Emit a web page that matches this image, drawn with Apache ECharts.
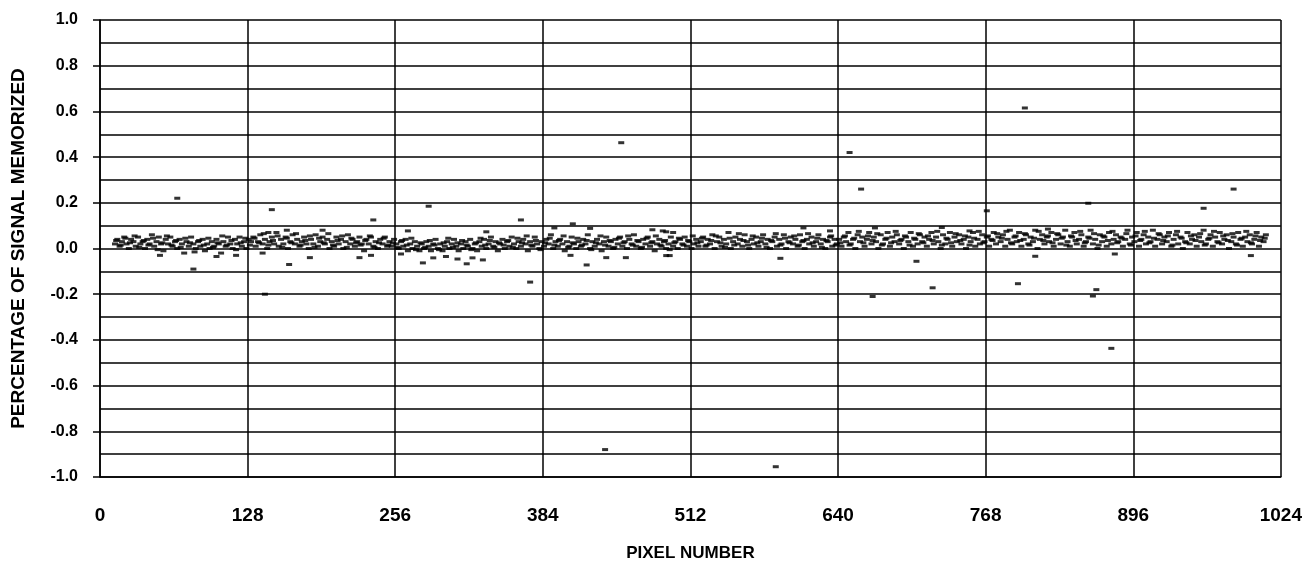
<!DOCTYPE html>
<html>
<head>
<meta charset="utf-8">
<script src="https://cdn.jsdelivr.net/npm/echarts@6/dist/echarts.min.js"></script>
<style>
html,body{margin:0;padding:0;background:#fff;}
#chart{width:1305px;height:567px;}
</style>
</head>
<body>
<div id="chart"></div>
<script>
// ---- DATA ----
const xTicks = [0, 128, 256, 384, 512, 640, 768, 896, 1024];
const yTicks = [-1.0, -0.8, -0.6, -0.4, -0.2, 0.0, 0.2, 0.4, 0.6, 0.8, 1.0];
const xTitle = 'PIXEL NUMBER';
const yTitle = 'PERCENTAGE OF SIGNAL MEMORIZED';

// dense band, pixels 0-250
const bandLeft = [
[13,.02],[15,.04],[17,.01],[19,.03],[21,.05],[23,.02],[25,.00],[27,.04],[29,.03],[31,.01],[33,.05],[35,.02],[37,.03],[39,.00],[41,.04],[43,.02],[45,.06],[47,.01],[49,.03],[51,.05],[53,.02],[55,-.01],[57,.04],[59,.02],[61,.05],[63,.01],[65,.03],[67,.00],[69,.04],[71,.02],[73,-.02],[75,.03],[77,.01],[79,.05],[81,.02],[83,.00],[85,.03],[87,.01],[89,.04],[91,-.01],[93,.02],[95,.00],[97,.03],[99,.01],[101,.04],[103,.02],[105,-.02],[107,.03],[109,.01],[111,.05],[113,.02],[115,.00],[117,.04],[119,.02],[121,.05],[123,.01],[125,.03],[127,.00],[129,.04],
[131,.03],[133,.05],[135,.01],[137,.03],[139,.06],[141,.02],[143,.04],[145,.00],[147,.03],[149,.05],[151,.02],[153,.07],[155,.01],[157,.04],[159,.02],[161,.05],[163,.00],[165,.03],[167,.06],[169,.02],[171,.04],[173,.01],[175,.03],[177,.05],[179,.02],[181,.00],[183,.04],[185,.02],[187,.06],[189,.01],[191,.03],[193,.05],[195,.02],[197,.04],[199,.00],[201,.03],[203,.01],[205,.05],[207,.02],[209,.04],[211,.00],[213,.03],[215,.06],[217,.02],[219,.04],[221,.01],[223,.03],[225,.05],[227,.02],[229,-.01],[231,.04],[233,.02],[235,.05],[237,.01],[239,.03],[241,.00],[243,.04],[245,.02],[247,.05],[249,.01]
];
// dense band, pixels 250-520
const bandMiddle = [
[251,.03],[253,.01],[255,.04],[257,.02],[259,.00],[261,.03],[263,.01],[265,.04],[267,-.01],[269,.02],[271,.00],[273,.03],[275,.01],[277,-.01],[279,.02],[281,.00],[283,.03],[285,.01],[287,-.01],[289,.02],[291,.04],[293,.00],[295,.02],[297,-.01],[299,.01],[301,.03],[303,.00],[305,.02],[307,.04],[309,.01],[311,-.01],[313,.02],[315,.00],[317,.03],[319,.01],[321,.04],[323,.00],[325,.02],[327,-.01],[329,.03],[331,.01],[333,.04],[335,.00],[337,.02],[339,.05],[341,.01],[343,.03],[345,-.01],
[347,.02],[349,.04],[351,.00],[353,.03],[355,.01],[357,.05],[359,.02],[361,.00],[363,.03],[365,.01],[367,.04],[369,.02],[371,-.01],[373,.03],[375,.01],[377,.05],[379,.02],[381,.00],[383,.03],[385,.01],[387,.04],[389,.02],[391,.06],[393,.00],[395,.03],[397,.01],[399,.04],[401,.02],[403,-.01],[405,.03],[407,.01],[409,.05],[411,.02],[413,.00],[415,.03],[417,.01],[419,.04],[421,.02],[423,.06],[425,.00],[427,.03],[429,.01],[431,.04],[433,.02],[435,-.01],[437,.03],[439,.05],[441,.01],[443,.03],[445,.00],[447,.04],[449,.02],[451,.05],[453,.01],[455,.03],[457,.00],[459,.04],[461,.02],[463,.06],[465,.01],[467,.03],[469,.00],[471,.04],[473,.02],[475,.05],[477,.01],[479,.03],[481,-.01],[483,.02],[485,.04],[487,.01],[489,.03],[491,.00],[493,.02],[495,.05],[497,.01],[499,.03],[501,.00],[503,.04],[505,.02],[507,.05],[509,.01],[511,.03],[513,.00],[515,.02],[517,.04],[519,.01]
];
// dense band, pixels 520-780
const bandCenterRight = [
[521,.03],[523,.05],[525,.01],[527,.04],[529,.02],[531,.06],[533,.00],[535,.03],[537,.05],[539,.01],[541,.04],[543,.02],[545,.07],[547,.00],[549,.03],[551,.05],[553,.02],[555,.04],[557,.01],[559,.06],[561,.03],[563,.00],[565,.04],[567,.02],[569,.05],[571,.01],[573,.03],[575,.06],[577,.02],[579,.04],[581,.00],[583,.03],[585,.05],[587,.01],[589,.04],[591,.02],[593,.06],[595,.00],[597,.03],[599,.05],[601,.02],[603,.04],[605,.01],[607,.06],[609,.03],[611,.00],[613,.04],[615,.02],[617,.05],[619,.01],[621,.03],[623,.06],[625,.02],[627,.04],[629,.00],[631,.03],[633,.05],[635,.01],[637,.04],[639,.02],
[641,.04],[643,.01],[645,.05],[647,.03],[649,.07],[651,.02],[653,.04],[655,.00],[657,.06],[659,.03],[661,.05],[663,.01],[665,.04],[667,.07],[669,.02],[671,.05],[673,.03],[675,.00],[677,.06],[679,.02],[681,.04],[683,.07],[685,.01],[687,.05],[689,.03],[691,.06],[693,.02],[695,.04],[697,.00],[699,.05],[701,.03],[703,.07],[705,.01],[707,.04],[709,.02],[711,.06],[713,.03],[715,.05],[717,.01],[719,.04],[721,.07],[723,.02],[725,.05],[727,.03],[729,.00],[731,.06],[733,.02],[735,.04],[737,.07],[739,.01],[741,.05],[743,.03],[745,.06],[747,.02],[749,.04],[751,.00],[753,.05],[755,.03],[757,.07],[759,.01],[761,.04],[763,.02],[765,.06],[767,.03],[769,.05],[771,.01],[773,.04],[775,.07],[777,.02],[779,.05]
];
// dense band, pixels 780-1012
const bandRight = [
[781,.03],[783,.06],[785,.01],[787,.04],[789,.08],[791,.02],[793,.05],[795,.03],[797,.07],[799,.01],[801,.04],[803,.06],[805,.02],[807,.05],[809,.03],[811,.08],[813,.00],[815,.04],[817,.06],[819,.02],[821,.05],[823,.03],[825,.07],[827,.01],[829,.04],[831,.06],[833,.02],[835,.05],[837,.08],[839,.03],[841,.01],[843,.05],[845,.07],[847,.02],[849,.04],[851,.06],[853,.01],[855,.03],[857,.05],[859,.08],[861,.02],[863,.04],[865,.00],[867,.06],[869,.03],[871,.05],[873,.01],[875,.07],[877,.02],[879,.04],[881,.06],[883,.03],[885,.05],[887,.01],[889,.04],[891,.08],[893,.02],[895,.05],[897,.03],[899,.07],[901,.01],[903,.04],[905,.06],[907,.02],[909,.05],[911,.03],[913,.08],[915,.01],[917,.04],[919,.06],[921,.02],[923,.05],[925,.03],[927,.07],[929,.01],[931,.04],[933,.06],[935,.02],[937,.05],[939,.00],[941,.03],[943,.07],[945,.02],[947,.04],[949,.06],[951,.01],[953,.05],[955,.03],[957,.08],[959,.02],[961,.04],[963,.06],[965,.01],[967,.05],[969,.03],[971,.07],[973,.02],[975,.04],[977,.06],[979,.00],[981,.03],[983,.05],[985,.02],[987,.07],[989,.04],[991,.01],[993,.05],[995,.03],[997,.06],[999,.02],[1001,.04],[1003,.07],[1005,.01],[1007,.05],[1009,.03],[1011,.06]
];
// overlapping second row of the band
const bandFill = [
[14,.035],[18,.015],[22,.045],[26,.025],[30,.055],[34,.005],[38,.035],[42,.015],[46,.045],[50,-.005],[54,.025],[58,.055],[62,.015],[66,.035],[70,.005],[74,.045],[78,.025],[82,-.015],[86,.035],[90,.015],[94,.045],[98,.005],[102,.025],[106,.055],[110,.015],[114,.035],[118,-.005],[122,.025],[126,.045],[130,.015],
[134,.045],[138,.025],[142,.065],[146,.015],[150,.035],[154,.055],[158,.005],[162,.045],[166,.025],[170,.065],[174,.015],[178,.035],[182,.055],[186,.005],[190,.045],[194,.025],[198,.065],[202,.015],[206,.035],[210,.055],[214,.005],[218,.045],[222,.025],[226,.015],[230,.035],[234,.055],[238,.005],[242,.025],[246,.045],[250,.015],
[254,.025],[258,.005],[262,.035],[266,.015],[270,.045],[274,-.005],[278,.025],[282,.005],[286,.035],[290,.015],[294,-.005],[298,.025],[302,.045],[306,.005],[310,.025],[314,.035],[318,.015],[322,-.005],[326,.025],[330,.045],[334,.015],[338,.035],[342,.005],[346,.025],
[350,.015],[354,.035],[358,.005],[362,.045],[366,.025],[370,.055],[374,.015],[378,.035],[382,-.005],[386,.025],[390,.045],[394,.015],[398,.035],[402,.055],[406,.005],[410,.025],[414,.045],[418,.015],[422,.035],[426,-.005],[430,.025],[434,.055],[438,.015],[442,.035],[446,.005],[450,.045],[454,.025],[458,.055],[462,.015],[466,.035],[470,.005],[474,.045],[478,.025],[482,.055],[486,.015],[490,.035],[494,-.005],[498,.025],[502,.045],[506,.015],[510,.035],[514,.055],[518,.025],
[522,.045],[526,.015],[530,.035],[534,.055],[538,.025],[542,.005],[546,.045],[550,.015],[554,.065],[558,.035],[562,.015],[566,.055],[570,.025],[574,.045],[578,.005],[582,.035],[586,.065],[590,.015],[594,.045],[598,.025],[602,.055],[606,.015],[610,.035],[614,.065],[618,.025],[622,.045],[626,.005],[630,.035],[634,.055],[638,.015],
[642,.025],[646,.055],[650,.015],[654,.045],[658,.075],[662,.025],[666,.055],[670,.035],[674,.065],[678,.015],[682,.045],[686,.025],[690,.075],[694,.035],[698,.055],[702,.015],[706,.045],[710,.065],[714,.025],[718,.055],[722,.035],[726,.075],[730,.015],[734,.045],[738,.025],[742,.065],[746,.035],[750,.055],[754,.015],[758,.045],[762,.075],[766,.025],[770,.055],[774,.035],[778,.065],
[782,.045],[786,.075],[790,.025],[794,.055],[798,.035],[802,.065],[806,.015],[810,.045],[814,.075],[818,.035],[822,.055],[826,.025],[830,.065],[834,.045],[838,.015],[842,.055],[846,.035],[850,.075],[854,.025],[858,.045],[862,.065],[866,.015],[870,.055],[874,.035],[878,.075],[882,.025],[886,.045],[890,.065],[894,.015],[898,.055],[902,.035],[906,.075],[910,.025],[914,.045],[918,.065],[922,.035],[926,.055],[930,.015],[934,.075],[938,.045],[942,.025],[946,.055],[950,.035],[954,.065],[958,.015],[962,.045],[966,.075],[970,.025],[974,.055],[978,.035],[982,.065],[986,.015],[990,.045],[994,.075],[998,.025],[1002,.055],[1006,.035],[1010,.045]
];
// isolated points away from the band
const outliers = [
[67,.22],[81,-.09],[52,-.03],[101,-.035],[118,-.03],[141,-.02],[146,.07],[162,.08],[149,.17],[143,-.2],[164,-.07],[182,-.04],[193,.08],[225,-.04],[235,-.03],[237,.125],
[285,.185],[365,.125],[410,.108],[425,.088],[394,.09],[267,.077],[335,.073],[280,-.063],[289,-.041],[300,-.035],[310,-.046],[318,-.067],[323,-.041],[332,-.05],[373,-.147],[422,-.072],[439,-.04],[456,-.04],[488,.077],[491,-.031],[491,.073],[497,.07],[479,.082],[408,-.03],[261,-.024],
[452,.463],[438,-.88],[586,-.955],[494,-.031],[590,-.043],[610,.09],[633,.077],[650,.42],[660,.26],[672,.09],[670,-.21],[708,-.056],[722,-.172],[730,.092],[754,.077],
[769,.165],[802,.615],[796,-.154],[811,-.034],[822,.085],[857,.198],[861,-.208],[864,-.18],[877,-.437],[880,-.024],[957,.176],[983,.26],[998,-.031]
];

// ---- CHART ----
const FONT = '"Liberation Sans", Arial, sans-serif';
const INK = '#000';
const chart = echarts.init(document.getElementById('chart'), null, {renderer: 'canvas'});
const dash = {symbol: 'rect', symbolSize: [6, 3], itemStyle: {color: INK}, silent: true, animation: false};

chart.setOption({
  backgroundColor: '#fff',
  animation: false,
  grid: {left: 100, right: 24, top: 20, bottom: 88, containLabel: false},
  xAxis: {
    type: 'value', min: xTicks[0], max: xTicks[xTicks.length - 1], interval: 128,
    name: xTitle, nameLocation: 'middle', nameGap: 68,
    nameTextStyle: {fontFamily: FONT, fontWeight: 'bold', fontSize: 17, color: INK},
    axisLine: {show: true, onZero: false, lineStyle: {color: INK, width: 1.5}},
    axisTick: {show: false},
    axisLabel: {margin: 29, fontFamily: FONT, fontWeight: 'bold', fontSize: 19, color: INK,
      formatter: v => String(v)},
    splitLine: {show: true, lineStyle: {color: INK, width: 1.5}}
  },
  yAxis: {
    type: 'value', min: yTicks[0], max: yTicks[yTicks.length - 1], interval: 0.2,
    name: yTitle, nameLocation: 'middle', nameGap: 72, nameRotate: 90,
    nameTextStyle: {fontFamily: FONT, fontWeight: 'bold', fontSize: 19, color: INK},
    axisLine: {show: true, onZero: false, lineStyle: {color: INK, width: 1.5}},
    axisTick: {show: true, length: 7, lineStyle: {color: INK, width: 1.5}},
    minorTick: {show: false, splitNumber: 2},
    minorSplitLine: {show: true, lineStyle: {color: INK, width: 1.5}},
    axisLabel: {margin: 22, fontFamily: FONT, fontWeight: 'bold', fontSize: 16, color: INK,
      formatter: v => (Math.abs(v) < 1e-9 ? 0 : v).toFixed(1)},
    splitLine: {show: true, lineStyle: {color: INK, width: 1.5}}
  },
  series: [
    Object.assign({type: 'scatter', name: 'band-left', data: bandLeft}, dash),
    Object.assign({type: 'scatter', name: 'band-middle', data: bandMiddle}, dash),
    Object.assign({type: 'scatter', name: 'band-center-right', data: bandCenterRight}, dash),
    Object.assign({type: 'scatter', name: 'band-right', data: bandRight}, dash),
    Object.assign({type: 'scatter', name: 'band-fill', data: bandFill}, dash),
    Object.assign({type: 'scatter', name: 'outliers', data: outliers}, dash)
  ]
});
</script>
</body>
</html>
